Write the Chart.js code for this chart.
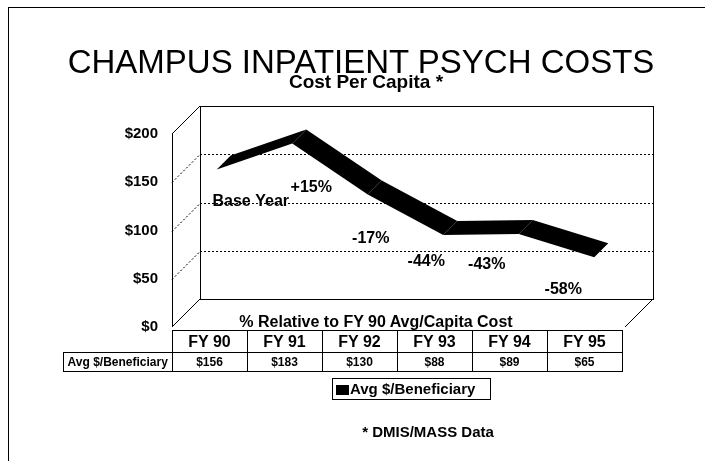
<!DOCTYPE html>
<html>
<head>
<meta charset="utf-8">
<script src="https://cdn.jsdelivr.net/npm/chart.js@4.4.1/dist/chart.umd.min.js"></script>
<style>
    body { margin: 0; background: #fff; font-family: "Liberation Sans", Arial, sans-serif; color: #000; }
    #page { position: relative; width: 705px; height: 461px; overflow: hidden; background: #fff; }
    #frame { position: absolute; left: 8px; top: 7px; width: 800px; height: 600px; border-left: 1px solid #000; border-top: 1px solid #000; }
    #chart { position: absolute; left: 0; top: 0; }
    .txt { position: absolute; white-space: nowrap; text-align: center; }
    #title { left: 0; width: 722px; top: 45px; font-size: 33px; line-height: 33px; }
    #subtitle { left: 0; width: 732px; top: 72px; font-size: 19px; line-height: 19px; font-weight: bold; }
    #relNote { left: 0; width: 752px; top: 314px; font-size: 16px; line-height: 16px; font-weight: bold; }
    #source { left: 0; width: 856px; top: 424px; font-size: 15px; line-height: 15px; font-weight: bold; }
    #tbl { position: absolute; left: 63px; top: 330px; border-collapse: collapse; table-layout: fixed; }
    #tbl td, #tbl th { border: 1px solid #000; padding: 0; text-align: center; font-weight: bold; white-space: nowrap; }
    #tbl th { font-size: 16px; height: 21px; width: 74px; }
    #tbl td { font-size: 12px; height: 18px; }
    #tbl td.blank { border: none; width: 108px; }
    #legend { position: absolute; left: 332px; top: 378px; width: 157px; height: 20px; border: 1px solid #000;
              font-size: 15px; font-weight: bold; line-height: 20px; }
    #legend .sw { display: inline-block; width: 13px; height: 10px; background: #000; margin: 0 1px 0 3px; vertical-align: -1px; }
</style>
</head>
<body>
<div id="page">
    <div id="frame"></div>
    <canvas id="chart" width="705" height="461"></canvas>
    <div class="txt" id="title">CHAMPUS INPATIENT PSYCH COSTS</div>
    <div class="txt" id="subtitle">Cost Per Capita *</div>
    <div class="txt" id="relNote">% Relative to FY 90 Avg/Capita Cost</div>
    <table id="tbl"></table>
    <div id="legend"></div>
    <div class="txt" id="source">* DMIS/MASS Data</div>
</div>

<script>
// ---- data ----
const years = ['FY 90', 'FY 91', 'FY 92', 'FY 93', 'FY 94', 'FY 95'];
const avgCost = [156, 183, 130, 88, 89, 65];
const changeLabels = ['Base Year', '+15%', '-17%', '-44%', '-43%', '-58%'];
const yTicks = [0, 50, 100, 150, 200];
const seriesName = 'Avg $/Beneficiary';

// 3d depth of the box, in px
const DEPTH = 28;
// where each change label sits relative to its point (px)
const labelShift = [[41, 25], [26, 37], [10, 37], [-10, 20], [-25, 23], [-24, 25]];

const FONT = '"Liberation Sans", Arial, sans-serif';

// ---- table + legend ----
function buildTable() {
    const tbl = document.getElementById('tbl');
    let head = '<tr><td class="blank"></td>' + years.map(y => `<th>${y}</th>`).join('') + '</tr>';
    let row = `<tr><td>${seriesName}</td>` + avgCost.map(v => `<td>$${v}</td>`).join('') + '</tr>';
    tbl.innerHTML = head + row;
}

function dotted(ctx, x1, y1, x2, y2) {
    ctx.save();
    ctx.setLineDash([2, 2]);
    ctx.beginPath(); ctx.moveTo(x1, y1); ctx.lineTo(x2, y2); ctx.stroke();
    ctx.restore();
}

function solid(ctx, x1, y1, x2, y2) {
    ctx.beginPath(); ctx.moveTo(x1, y1); ctx.lineTo(x2, y2); ctx.stroke();
}

// draws the 3d walls and floor behind the ribbon
const box3d = {
    id: 'box3d',
    beforeDatasetsDraw(chart) {
        const ctx = chart.ctx;
        const { left, right, top, bottom } = chart.chartArea;
        const ys = chart.scales.y;
        ctx.save();
        ctx.strokeStyle = '#000';
        ctx.lineWidth = 1;
        // dotted grid on back wall + side wall
        yTicks.forEach(t => {
            const py = Math.round(ys.getPixelForValue(t)) + 0.5;
            if (t === 0 || t === yTicks[yTicks.length - 1]) return;
            dotted(ctx, left + DEPTH, py - DEPTH, right + DEPTH, py - DEPTH);
            dotted(ctx, left, py, left + DEPTH, py - DEPTH);
        });
        // back wall
        ctx.strokeRect(left + DEPTH + 0.5, top - DEPTH + 0.5, right - left, bottom - top);
        // side wall
        solid(ctx, left + 0.5, top, left + 0.5, bottom);
        solid(ctx, left, top, left + DEPTH, top - DEPTH);
        solid(ctx, left, bottom, left + DEPTH, bottom - DEPTH);
        // floor right edge
        solid(ctx, right, bottom, right + DEPTH, bottom - DEPTH);
        ctx.restore();
    },
    afterDatasetsDraw(chart) {
        const ctx = chart.ctx;
        const pts = chart.getDatasetMeta(0).data;
        const f = DEPTH * 0.25, b = DEPTH * 0.75;
        ctx.save();
        ctx.fillStyle = '#000';
        for (let i = 0; i < pts.length - 1; i++) {
            const p = pts[i], q = pts[i + 1];
            ctx.beginPath();
            ctx.moveTo(p.x + f, p.y - f);
            ctx.lineTo(q.x + f, q.y - f);
            ctx.lineTo(q.x + b, q.y - b);
            ctx.lineTo(p.x + b, p.y - b);
            ctx.closePath();
            ctx.fill();
        }
        // change labels
        ctx.font = 'bold 16px ' + FONT;
        ctx.textAlign = 'center';
        ctx.textBaseline = 'middle';
        pts.forEach((p, i) => {
            ctx.fillText(changeLabels[i], p.x + labelShift[i][0], p.y + labelShift[i][1]);
        });
        ctx.restore();
    }
};

buildTable();

const chart = new Chart(document.getElementById('chart'), {
    type: 'line',
    data: {
        labels: years,
        datasets: [{
            label: seriesName,
            data: avgCost,
            borderWidth: 0,
            borderColor: 'rgba(0,0,0,0)',
            pointRadius: 0,
            fill: false
        }]
    },
    options: {
        responsive: false,
        animation: false,
        layout: { padding: { left: 0, top: 134, right: 80, bottom: 134 } },
        plugins: { legend: { display: false }, tooltip: { enabled: false } },
        scales: {
            x: { type: 'category', offset: true, display: false },
            y: {
                min: 0, max: 200,
                afterFit: s => { s.width = 172; },
                afterBuildTicks: s => { s.ticks = yTicks.map(v => ({ value: v })); },
                grid: { display: false, drawTicks: false },
                border: { display: false },
                ticks: {
                    padding: 14,
                    color: '#000',
                    font: { family: FONT, size: 15, weight: 'bold' },
                    callback: v => '$' + v
                }
            }
        }
    },
    plugins: [box3d]
});

// legend from the dataset
document.getElementById('legend').innerHTML = chart.data.datasets
    .map(d => `<span class="sw"></span>${d.label}`).join('');
</script>
</body>
</html>
